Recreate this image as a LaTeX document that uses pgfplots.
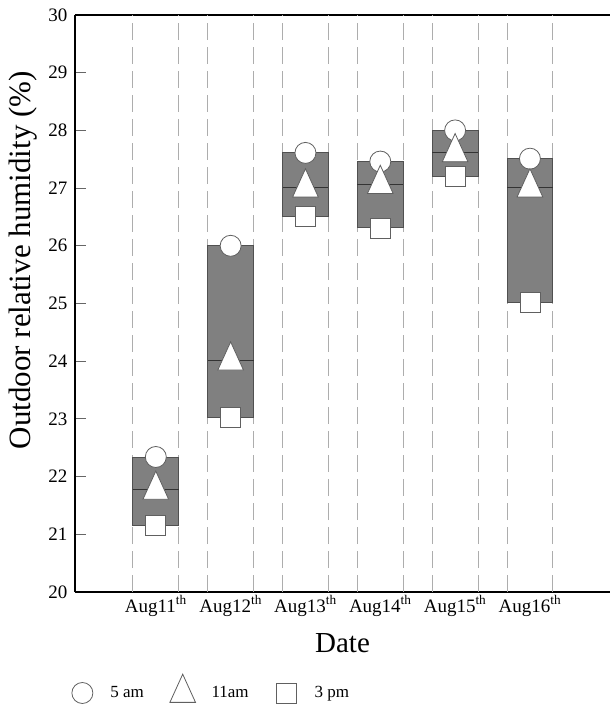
\documentclass[border=0pt]{standalone}
\usepackage{pgfplots}
\pgfplotsset{compat=1.18}
\usepgfplotslibrary{statistics}
\usepackage{fontspec}
\setmainfont{Liberation Serif}
\definecolor{boxfill}{HTML}{808080}
\definecolor{boxedge}{HTML}{505050}
\definecolor{markedge}{HTML}{606060}
\definecolor{dashgray}{HTML}{ADADAD}
\begin{document}
\begin{tikzpicture}
\begin{axis}[
  name=ax,
  scale only axis,
  width=535bp, height=577bp,
  xmin=-0.08, xmax=7.07,
  ymin=20, ymax=30,
  axis x line=box, axis y line=left,
  axis line style={black, line width=1.3bp, -},
  ytick={20,21,...,30},
  tick align=inside,
  major tick length=11bp,
  ytick style={draw=gray!80!black, line width=0.9bp},
  xtick={1,2,3,4,5,6},
  xticklabels={Aug11\textsuperscript{th},Aug12\textsuperscript{th},Aug13\textsuperscript{th},Aug14\textsuperscript{th},Aug15\textsuperscript{th},Aug16\textsuperscript{th}},
  xtick style={draw=none},
  extra x ticks={0.693,1.307,1.693,2.307,2.693,3.307,3.693,4.307,4.693,5.307,5.693,6.307},
  extra x tick labels={},
  extra x tick style={grid=major, major tick length=0pt},
  major grid style={dashgray, line width=0.9bp, dash pattern=on 17bp off 7bp},
  /pgf/number format/assume math mode=true,
  yticklabel style={font=\fontsize{19bp}{22bp}\selectfont, xshift=-4bp},
  xticklabel style={font=\fontsize{19bp}{22bp}\selectfont, anchor=base, yshift=-20bp},
  xlabel={Date},
  ylabel={Outdoor relative humidity (\%)},
  xlabel style={font=\fontsize{29bp}{32bp}\selectfont, at={(axis description cs:0.5,-0.104)}, anchor=base},
  ylabel style={font=\fontsize{31bp}{34bp}\selectfont, at={(axis description cs:-0.097,0.575)}, anchor=center, rotate=0},
  boxplot/draw direction=y,
  boxplot/box extend=0.613,
  boxplot/every box/.style={draw=boxedge, fill=boxfill, line width=0.9bp},
  boxplot/every median/.style={draw=black!80, line width=1bp},
  boxplot/every whisker/.style={draw=none},
  legend columns=3,
  legend style={draw=none, fill=none, inner sep=0pt,
    at={(axis description cs:-0.009,-0.170)}, anchor=west,
    font=\fontsize{17bp}{20bp}\selectfont,
    /tikz/every odd column/.append style={column sep=14bp},
    /tikz/every even column/.append style={column sep=24bp}},
  legend image code/.code={\path[draw=none,fill=none] (-12bp,-13bp) rectangle (12bp,13bp); \draw[#1] plot coordinates {(0bp,0bp)};},
]
\addplot[forget plot, boxplot prepared={draw position=1, lower whisker=21.16, lower quartile=21.16, median=21.77, upper quartile=22.34, upper whisker=22.34}] coordinates {};
\addplot[forget plot, boxplot prepared={draw position=2, lower whisker=23.02, lower quartile=23.02, median=24.01, upper quartile=26.00, upper whisker=26.00}] coordinates {};
\addplot[forget plot, boxplot prepared={draw position=3, lower whisker=26.51, lower quartile=26.51, median=27.01, upper quartile=27.61, upper whisker=27.61}] coordinates {};
\addplot[forget plot, boxplot prepared={draw position=4, lower whisker=26.31, lower quartile=26.31, median=27.07, upper quartile=27.46, upper whisker=27.46}] coordinates {};
\addplot[forget plot, boxplot prepared={draw position=5, lower whisker=27.20, lower quartile=27.20, median=27.62, upper quartile=28.00, upper whisker=28.00}] coordinates {};
\addplot[forget plot, boxplot prepared={draw position=6, lower whisker=25.02, lower quartile=25.02, median=27.01, upper quartile=27.51, upper whisker=27.51}] coordinates {};
\addplot[only marks, mark=*, mark size=10.5bp, mark options={fill=white, draw=markedge, line width=0.8bp}]
  coordinates {(1,22.34) (2,26.00) (3,27.61) (4,27.46) (5,28.00) (6,27.51)};
\addlegendentry{5 am}
\addplot[only marks, mark=triangle*, mark size=14.8bp, mark options={fill=white, draw=markedge, line width=0.8bp, yscale=1.27}]
  coordinates {(1,21.77) (2,24.01) (3,27.01) (4,27.07) (5,27.62) (6,27.01)};
\addlegendentry{11am}
\addplot[only marks, mark=square*, mark size=10bp, mark options={fill=white, draw=markedge, line width=0.8bp}]
  coordinates {(1,21.16) (2,23.02) (3,26.51) (4,26.31) (5,27.20) (6,25.02)};
\addlegendentry{3 pm}
\end{axis}
\pgfresetboundingbox
\useasboundingbox ([xshift=-75bp,yshift=-115bp]ax.south west) rectangle ([yshift=15bp]ax.north east);
\end{tikzpicture}
\end{document}
